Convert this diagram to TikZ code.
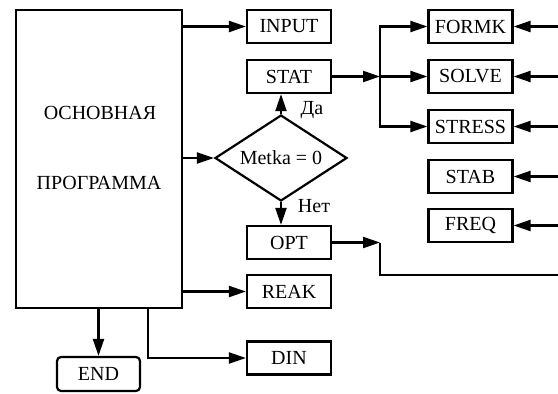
\documentclass[tikz,border=0pt]{standalone}
\usepackage{fontspec}
\setmainfont{Liberation Serif}
\usetikzlibrary{arrows.meta,shapes.geometric}
\begin{document}
\begin{tikzpicture}[x=1pt,y=-1pt,
  every node/.style={font=\fontsize{20}{22}\selectfont},
  box/.style={draw,line width=2.2pt,minimum width=84pt,minimum height=33pt,inner sep=0pt},
  lnk/.style={line width=2.2pt},
  arr/.style={line width=2.2pt,-{Triangle[length=17pt,width=11pt]}}]
\useasboundingbox (0,0) rectangle (558,394);
% main program
\node[draw,line width=2.2pt,minimum width=166pt,minimum height=298pt,inner sep=0pt] (main) at (99,159) {};
\node (t1) at (100,113) {ОСНОВНАЯ};
\node (t2) at (99,183) {ПРОГРАММА};
% left column boxes
\node[box] (INPUT) at (289,26.5) {INPUT};
\node[box] (STAT) at (289,76.5) {STAT};
\node[box] (OPT) at (289,242.5) {OPT};
\node[box] (REAK) at (289,291.5) {REAK};
\node[box] (DIN) at (289,358) {DIN};
\node[box,rounded corners=4pt,minimum width=83pt,minimum height=34pt] (END) at (98.5,374) {END};
% decision
\node[draw,line width=2.2pt,shape=diamond,aspect=1.535,inner sep=0pt,minimum width=132pt,minimum height=86pt] (dia) at (281,158) {Metka = 0};
\node (da) at (312,110) {Да};
\node (net) at (314,206) {Нет};
% right column
\node[box] (FORMK) at (470.5,26.5) {FORMK};
\node[box] (SOLVE) at (470.5,76.5) {SOLVE};
\node[box] (STRESS) at (470.5,126.5) {STRESS};
\node[box] (STAB) at (470.5,176.5) {STAB};
\node[box] (FREQ) at (470.5,225.5) {FREQ};
% coordinates
\coordinate (bus) at (380,76.5);
\coordinate (optj) at (380,242.5);
\coordinate (edgeO) at (558,275);
\coordinate (dj) at (148,308);
\coordinate (eF) at (558,26.5);
\coordinate (eS) at (558,76.5);
\coordinate (eR) at (558,126.5);
\coordinate (eB) at (558,176.5);
\coordinate (eQ) at (558,225.5);
% connectors
\draw[arr] (main.east |- INPUT.west) -- (INPUT.west);
\draw[arr] (main.east |- dia.west) -- (dia.west);
\draw[arr] (dia.north) -- (dia.north |- STAT.south);
\draw[arr] (dia.south) -- (dia.south |- OPT.north);
\draw[arr] (main.east |- REAK.west) -- (REAK.west);
\draw[arr] (dj) |- (DIN.west);
\draw[arr] (END.north |- main.south) -- (END.north);
\draw[arr] (STAT.east) -- (bus);
\draw[arr] (bus) |- (FORMK.west);
\draw[arr] (bus) -- (SOLVE.west);
\draw[arr] (bus) |- (STRESS.west);
\draw[arr] (OPT.east) -- (optj);
\draw[lnk] (optj) |- (edgeO);
\draw[arr] (eF) -- (FORMK.east);
\draw[arr] (eS) -- (SOLVE.east);
\draw[arr] (eR) -- (STRESS.east);
\draw[arr] (eB) -- (STAB.east);
\draw[arr] (eQ) -- (FREQ.east);
\end{tikzpicture}
\end{document}
